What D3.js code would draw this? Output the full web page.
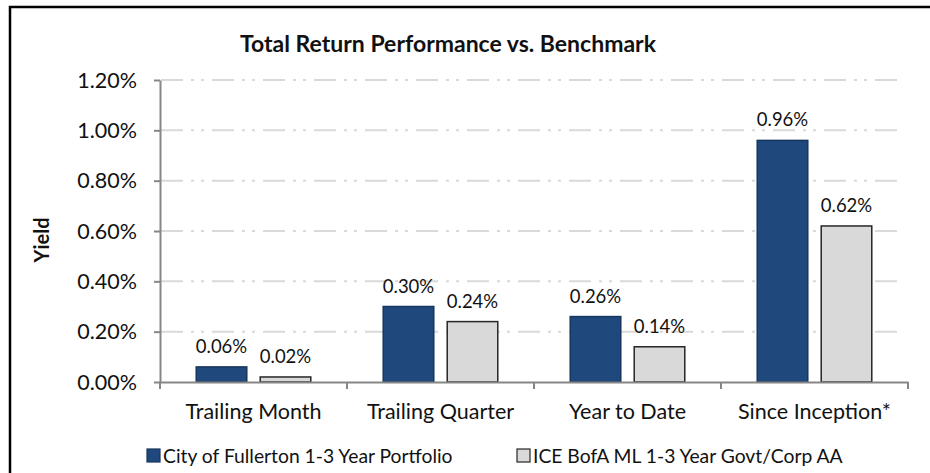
<!DOCTYPE html>
<html>
<head>
<meta charset="utf-8">
<title>Total Return Performance vs. Benchmark</title>
<script src="https://d3js.org/d3.v7.min.js"></script>
<style type="text/css">
	body { margin: 0; background: #fff; }
	svg text { font-family: Lato, "Open Sans", sans-serif; fill: #111; }
	.grid line { stroke: #d9d9d9; stroke-width: 2; stroke-dasharray: 22,8,3,7,3,8; }
	.axis path, .axis line { stroke: #868686; stroke-width: 2; }
</style>
</head>
<body>
<div id="chart"></div>
<script type="text/javascript">
var categories = ["Trailing Month", "Trailing Quarter", "Year to Date", "Since Inception*"];
var seriesNames = ["City of Fullerton 1-3 Year Portfolio", "ICE BofA ML 1-3 Year Govt/Corp AA"];
var portfolio = [0.0006, 0.0030, 0.0026, 0.0096];
var benchmark = [0.0002, 0.0024, 0.0014, 0.0062];
var yTicks = [0, 0.002, 0.004, 0.006, 0.008, 0.010, 0.012];
var colors = ["#1f497d", "#d9d9d9"];
var strokes = ["#17365d", "#262626"];

var width = 930, height = 473;
var plot = {left: 160, right: 908, top: 80, bottom: 382};

var svg = d3.select("#chart").append("svg")
	.attr("width", width)
	.attr("height", height);

// frame (top and left edges only show)
svg.append("path")
	.attr("d", "M10,480 L10,7 L935,7")
	.attr("fill", "none")
	.attr("stroke", "#000")
	.attr("stroke-width", 2.5);

var y = d3.scaleLinear().domain([0, 0.012]).range([plot.bottom, plot.top]);
var x = d3.scaleBand().domain(categories).range([plot.left, plot.right]).padding(0);
var xs = d3.scaleBand().domain(d3.range(2)).range([0, x.bandwidth()])
	.paddingInner(0.21).paddingOuter(0.566);

// gridlines
svg.append("g").attr("class", "grid")
	.selectAll("line")
	.data(yTicks.filter(function(d) { return d > 0; }))
	.enter().append("line")
	.attr("x1", plot.left + 1)
	.attr("x2", plot.right - 6)
	.attr("y1", function(d) { return y(d); })
	.attr("y2", function(d) { return y(d); });

var fmt = d3.format(".2%");

// y axis
var yAxis = svg.append("g").attr("class", "axis")
	.attr("transform", "translate(" + plot.left + ",0)")
	.call(d3.axisLeft(y).tickValues(yTicks).tickFormat(fmt).tickSize(6).tickSizeOuter(0));
yAxis.selectAll("text").attr("font-size", 21.5).attr("x", -23).attr("dy", "0.34em");

// bars
var data = [];
categories.forEach(function(c, i) {
	data.push({cat: c, s: 0, v: portfolio[i]});
	data.push({cat: c, s: 1, v: benchmark[i]});
});

svg.append("g").selectAll("rect")
	.data(data)
	.enter().append("rect")
	.attr("x", function(d) { return x(d.cat) + xs(d.s); })
	.attr("width", xs.bandwidth())
	.attr("y", function(d) { return y(d.v); })
	.attr("height", function(d) { return y(0) - y(d.v); })
	.attr("fill", function(d) { return colors[d.s]; })
	.attr("stroke", function(d) { return strokes[d.s]; })
	.attr("stroke-width", 1.5);

svg.append("g").selectAll("text")
	.data(data)
	.enter().append("text")
	.attr("x", function(d) { return x(d.cat) + xs(d.s) + xs.bandwidth() / 2; })
	.attr("y", function(d) { return y(d.v) - 14; })
	.attr("text-anchor", "middle")
	.attr("font-size", 18.5)
	.text(function(d) { return fmt(d.v); });

// x axis
var xAxis = svg.append("g").attr("class", "axis")
	.attr("transform", "translate(0," + plot.bottom + ")")
	.call(d3.axisBottom(x).tickSize(0).tickSizeOuter(0));
xAxis.selectAll("text").attr("font-size", 21.5).attr("dy", "1.58em");
xAxis.selectAll(".sep")
	.data(d3.range(categories.length + 1))
	.enter().append("line")
	.attr("class", "sep")
	.attr("x1", function(i) { return plot.left + i * x.step(); })
	.attr("x2", function(i) { return plot.left + i * x.step(); })
	.attr("y1", 0)
	.attr("y2", 7);

// title and axis label
svg.append("text")
	.attr("x", 448)
	.attr("y", 52)
	.attr("text-anchor", "middle")
	.attr("font-size", 23)
	.attr("font-weight", "bold")
	.text("Total Return Performance vs. Benchmark");

svg.append("text")
	.attr("transform", "translate(49,240) rotate(-90)")
	.attr("text-anchor", "middle")
	.attr("font-size", 20)
	.attr("font-weight", "bold")
	.text("Yield");

// legend
var legendX = [147, 517];
var legend = svg.append("g").selectAll("g")
	.data(seriesNames)
	.enter().append("g")
	.attr("transform", function(d, i) { return "translate(" + legendX[i] + ",449)"; });
legend.append("rect")
	.attr("width", 13).attr("height", 13)
	.attr("fill", function(d, i) { return colors[i]; })
	.attr("stroke", function(d, i) { return strokes[i]; })
	.attr("stroke-width", 1.2);
legend.append("text")
	.attr("x", 16)
	.attr("y", 14)
	.attr("font-size", 19.3)
	.text(function(d) { return d; });
</script>
</body>
</html>
